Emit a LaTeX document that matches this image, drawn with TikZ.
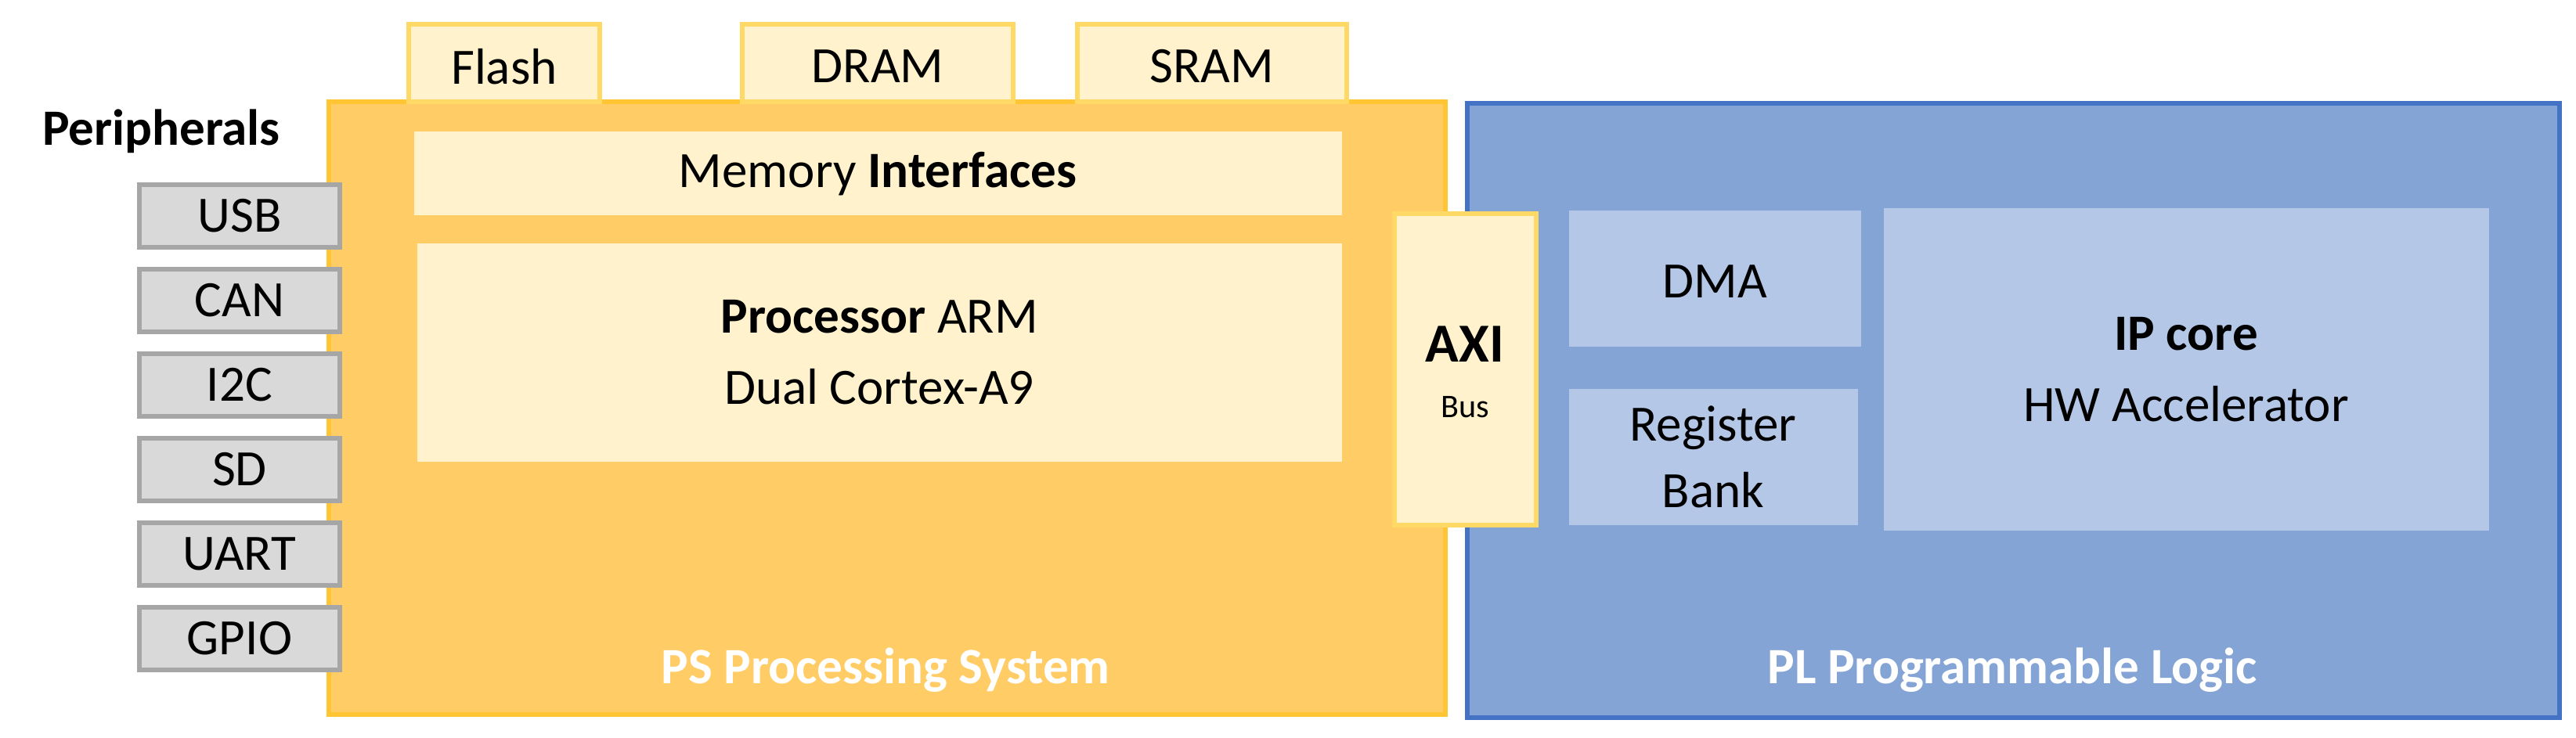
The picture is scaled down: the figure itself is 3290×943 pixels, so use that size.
\documentclass[tikz,border=0pt]{standalone}
\usepackage{fontspec}
\setmainfont{Carlito}
\begin{document}
\begin{tikzpicture}[x=0.01cm,y=-0.01cm,
  lbl/.style={font=\fontsize{18.5}{22}\selectfont},
  ylight/.style={fill=yellow!20!white,draw=yellow!60!orange,line width=1pt,fill=ylt},
  ypl/.style={fill=ylt},
  bl/.style={fill=bluelt},
  per/.style={fill=grayf,draw=grayd,line width=1.5pt,lbl}]
\definecolor{psf}{HTML}{FFCC66}
\definecolor{psd}{HTML}{FFC533}
\definecolor{ylt}{HTML}{FFF2CC}
\definecolor{yld}{HTML}{FFD966}
\definecolor{plf}{HTML}{84A4D6}
\definecolor{pld}{HTML}{4472C4}
\definecolor{bluelt}{HTML}{B4C7E7}
\definecolor{grayf}{HTML}{D9D9D9}
\definecolor{grayd}{HTML}{A6A6A6}
\useasboundingbox (0,0) rectangle (3290,943);
% PS
\draw[fill=psf,draw=psd,line width=1.5pt] (420,130) rectangle (1846,913);
\node[font=\fontsize{18.5}{22}\selectfont\bfseries,text=white] (pslbl) at (1131,856) {PS Processing System};
% PL
\draw[fill=plf,draw=pld,line width=1.5pt] (1874,132) rectangle (3269,917);
\node[font=\fontsize{18.5}{22}\selectfont\bfseries,text=white] (pllbl) at (2570,856) {PL Programmable Logic};
% memories
\draw[fill=ylt,draw=yld,line width=1.5pt] (522,31) rectangle (766,130);
\node[lbl] (flash) at (644,85) {Flash};
\draw[fill=ylt,draw=yld,line width=1.5pt] (948,31) rectangle (1294,130);
\node[lbl] (dram) at (1121,85) {DRAM};
\draw[fill=ylt,draw=yld,line width=1.5pt] (1376,31) rectangle (1720,130);
\node[lbl] (sram) at (1548,85) {SRAM};
\fill[ylt] (529,168) rectangle (1714,275);
\node[lbl] (mem) at (1121,222) {Memory \textbf{Interfaces}};
\fill[ylt] (533,311) rectangle (1714,590);
\node[lbl,align=center] (proc) at (1123,450) {\textbf{Processor} ARM\\[4pt]Dual Cortex-A9};
% AXI
\draw[fill=ylt,draw=yld,line width=1.5pt] (1781,273) rectangle (1962,671);
\node[font=\fontsize{20}{24}\selectfont\bfseries] (axi) at (1871,440) {AXI};
\node[font=\fontsize{12}{14}\selectfont] (bus) at (1871,520) {Bus};
% PL inner
\fill[bluelt] (2004,269) rectangle (2377,443);
\node[lbl] (dma) at (2190,360) {DMA};
\fill[bluelt] (2004,497) rectangle (2373,671);
\node[lbl,align=center] (reg) at (2188,584) {Register\\[2pt]Bank};
\fill[bluelt] (2406,266) rectangle (3179,678);
\node[lbl,align=center] (ip) at (2792,472) {\textbf{IP core}\\[4pt]HW Accelerator};
% peripherals
\node[font=\fontsize{18.5}{22}\selectfont\bfseries] (perl) at (206,168) {Peripherals};
\foreach \t [count=\i from 0] in {USB,CAN,I2C,SD,UART,GPIO}{
  \draw[fill=grayf,draw=grayd,line width=1.5pt] (178,{236+108*\i}) rectangle (434,{316+108*\i});
  \node[lbl] (p\i) at (306,{276+108*\i}) {\t};
}
\end{tikzpicture}
\end{document}
